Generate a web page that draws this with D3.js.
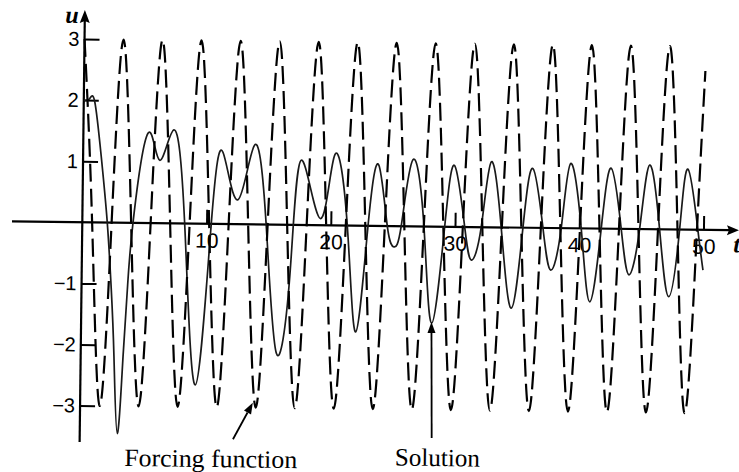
<!DOCTYPE html>
<html><head><meta charset="utf-8">
<script src="https://cdn.jsdelivr.net/npm/d3@7"></script>
<style>html,body{margin:0;padding:0;background:#fff;}svg{display:block;}</style>
</head><body>
<svg id="chart" width="739" height="472"></svg>
<script>
// Forcing function (dashed) read at quarter-period points
const forceT = [0, 0.79, 1.57, 2.36, 3.14, 3.93, 4.71, 5.50, 6.28, 7.07, 7.85, 8.64, 9.42, 10.21, 11.00, 11.78,
  12.57, 13.35, 14.14, 14.92, 15.71, 16.49, 17.28, 18.06, 18.85, 19.63, 20.42, 21.21, 21.99, 22.78, 23.56, 24.35,
  25.13, 25.92, 26.70, 27.49, 28.27, 29.06, 29.85, 30.63, 31.42, 32.20, 32.99, 33.77, 34.56, 35.34, 36.13, 36.91,
  37.70, 38.48, 39.27, 40.06, 40.84, 41.63, 42.41, 43.20, 43.98, 44.77, 45.55, 46.34, 47.12, 47.91, 48.69, 49.48, 50];
const forceU = [3, 0, -3, 0, 3, 0, -3, 0, 3, 0, -3, 0, 3, 0, -3, 0,
  3, 0, -3, 0, 3, 0, -3, 0, 3, 0, -3, 0, 3, 0, -3, 0,
  3, 0, -3, 0, 3, 0, -3, 0, 3, 0, -3, 0, 3, 0, -3, 0,
  3, 0, -3, 0, 3, 0, -3, 0, 3, 0, -3, 0, 3, 0, -3, 0, 2.6];
// Solution (solid) read at extrema and crossings
const solT = [0, 0.45, 0.88, 1.46, 2.01, 2.4, 2.68, 3.02, 3.41, 3.69, 4.08, 5.2, 6.17, 7.29, 8.24, 9.25,
  10.38, 11.26, 12.51, 13.8, 14.8, 15.74, 16.75, 17.56, 19.15, 20.25, 21.33, 22.11, 23.0, 23.8, 24.55, 25.11,
  25.67, 26.55, 27.5, 28.22, 29.17, 29.92, 30.78, 31.35, 32.11, 32.86, 33.72, 34.61, 35.47, 36.22, 37.08, 37.75,
  38.55, 39.25, 40.16, 40.92, 41.77, 42.52, 43.38, 44.05, 44.86, 45.61, 46.47, 47.27, 48.08, 48.7, 49.55, 50];
const solU = [2.0, 2.02, 1.98, 1.08, 0, -1.1, -2.19, -3.45, -2.19, -1.1, 0, 1.47, 1.03, 1.53, 0, -2.64,
  0, 1.17, 0.4, 1.3, 0, -2.1, -0.85, 1.06, 0.11, 1.15, 0, -1.74, 0, 1.0, 0, -0.34,
  0, 1.09, 0, -1.58, 0, 1.0, 0, -0.54, 0, 1.07, 0, -1.32, 0, 0.97, 0, -0.69,
  0, 1.06, 0, -1.2, 0, 0.99, 0, -0.75, 0, 1.05, 0, -1.1, 0, 0.99, 0, -0.66];
const tTicks = [10, 20, 30, 40, 50];
const uTicks = [-3, -2, -1, 1, 2, 3];
const annForcing = {label: "Forcing function", t0: 12.34, u0: -3.52, t1: 13.9, u1: -2.92};
const annSolution = {label: "Solution", t0: 28.33, u0: -3.46, t1: 28.2, u1: -1.56};

const W = 739, H = 472;
const svg = d3.select("#chart");
svg.append("rect").attr("width", W).attr("height", H).attr("fill", "#fff");

const x = d3.scaleLinear().domain([0, 50]).range([82.3, 703.5]);
const y = d3.scaleLinear().domain([-3, 3]).range([405.6, 39]);

const g = svg.append("g").attr("transform", `rotate(0.7, ${x(0)}, ${y(0)})`);

// x axis with ticks pointing up
const xAxis = d3.axisBottom(x).tickValues(tTicks).tickSize(-14).tickPadding(9).tickFormat(d3.format("d"));
const gx = g.append("g").attr("transform", `translate(0,${y(0)})`).call(xAxis);
gx.select(".domain").remove();
gx.selectAll(".tick line").attr("stroke", "#000").attr("stroke-width", 2);
gx.selectAll(".tick text").attr("font-family", "'Liberation Sans', Arial, sans-serif").attr("font-size", 21).attr("fill", "#000");

// y axis with ticks pointing right
const yAxis = d3.axisLeft(y).tickValues(uTicks).tickSize(-15).tickPadding(5).tickFormat(d3.format("d"));
const gy = g.append("g").attr("transform", `translate(${x(0)},0)`).call(yAxis);
gy.select(".domain").remove();
gy.selectAll(".tick line").attr("stroke", "#000").attr("stroke-width", 2);
gy.selectAll(".tick text").attr("font-family", "'Liberation Sans', Arial, sans-serif").attr("font-size", 20).attr("fill", "#000");

// axis lines with arrowheads
const x0 = x(0), y0 = y(0);
g.append("line").attr("x1", 12).attr("x2", 730).attr("y1", y0).attr("y2", y0).attr("stroke", "#000").attr("stroke-width", 2.2);
g.append("path").attr("d", `M739,${y0} L727,${y0 - 5} L729,${y0} L727,${y0 + 5} Z`).attr("fill", "#000");
g.append("line").attr("x1", x0).attr("x2", x0).attr("y1", 442).attr("y2", 20).attr("stroke", "#000").attr("stroke-width", 2.2);
g.append("path").attr("d", `M${x0},10 L${x0 - 5},23 L${x0},21 L${x0 + 5},23 Z`).attr("fill", "#000");

// axis titles
g.append("text").attr("x", x0 - 6).attr("y", 23).attr("text-anchor", "end")
  .attr("font-family", "'Liberation Serif', 'Times New Roman', serif").attr("font-style", "italic").attr("font-weight", "bold")
  .attr("font-size", 24).text("u");
g.append("text").attr("x", 733.5).attr("y", y0 + 22)
  .attr("font-family", "'Liberation Serif', 'Times New Roman', serif").attr("font-style", "italic").attr("font-weight", "bold")
  .attr("font-size", 24).text("t");

// curves
const forceData = forceT.map((t, i) => [t, forceU[i]]);
const solData = solT.map((t, i) => [t, solU[i]]);
const line = d3.line().x(d => x(d[0])).y(d => y(d[1])).curve(d3.curveNatural);

g.append("path").datum(solData).attr("d", line).attr("fill", "none")
  .attr("stroke", "#1a1a1a").attr("stroke-width", 1.7).attr("stroke-linejoin", "round");
g.append("path").datum(forceData).attr("d", line).attr("fill", "none")
  .attr("stroke", "#000").attr("stroke-width", 2.2).attr("stroke-dasharray", "18 7");

// annotations
function arrow(a) {
  const xa = x(a.t0), ya = y(a.u0), xb = x(a.t1), yb = y(a.u1);
  const ang = Math.atan2(yb - ya, xb - xa);
  const L = 11, Wd = 4;
  const bx = xb - L * Math.cos(ang), by = yb - L * Math.sin(ang);
  g.append("line").attr("x1", xa).attr("y1", ya).attr("x2", bx).attr("y2", by).attr("stroke", "#000").attr("stroke-width", 1.8);
  g.append("path").attr("d", `M${xb},${yb} L${bx + Wd * Math.sin(ang)},${by - Wd * Math.cos(ang)} L${bx - Wd * Math.sin(ang)},${by + Wd * Math.cos(ang)} Z`).attr("fill", "#000");
}
arrow(annForcing);
arrow(annSolution);

g.append("text").attr("x", x(annForcing.t0) - 22).attr("y", 465.5).attr("text-anchor", "middle")
  .attr("font-family", "'Liberation Serif', 'Times New Roman', serif").attr("font-size", 25)
  .attr("textLength", 173).attr("lengthAdjust", "spacingAndGlyphs").text(annForcing.label);
g.append("text").attr("x", x(annSolution.t0) + 6).attr("y", 461.7).attr("text-anchor", "middle")
  .attr("font-family", "'Liberation Serif', 'Times New Roman', serif").attr("font-size", 25)
  .attr("textLength", 85).attr("lengthAdjust", "spacingAndGlyphs").text(annSolution.label);
</script>
</body></html>
